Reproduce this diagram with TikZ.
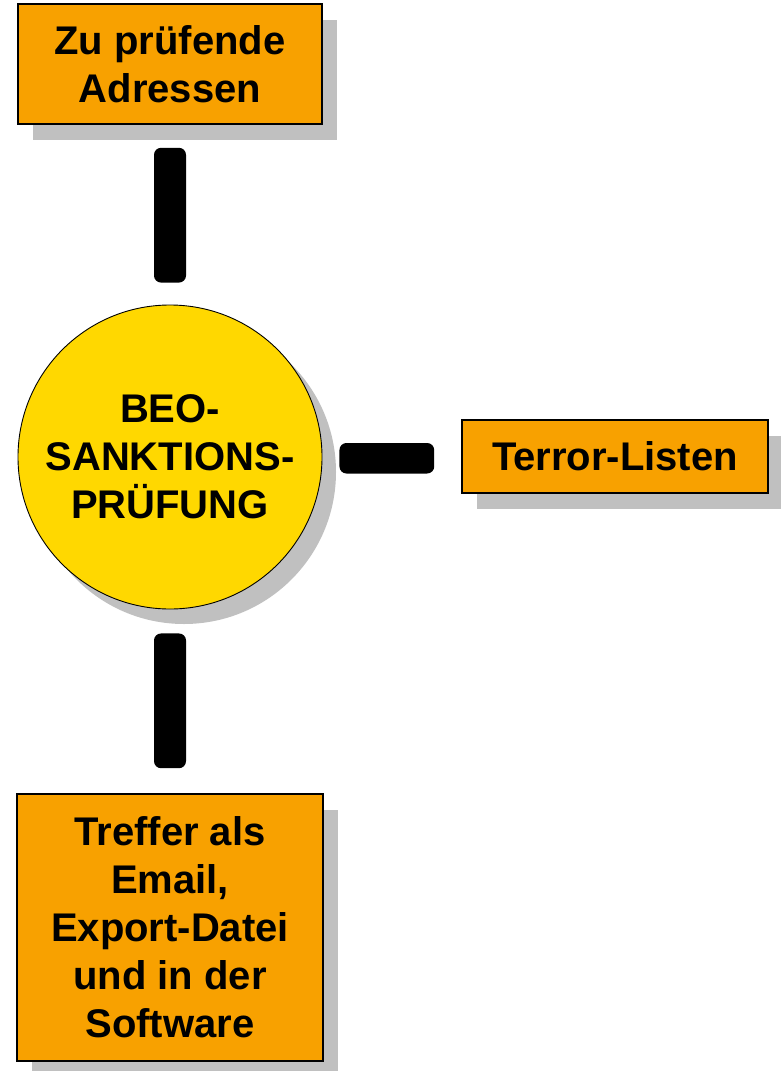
\documentclass[tikz,border=0pt]{standalone}
\usepackage{fontspec}
\setmainfont{Liberation Sans}
\usepackage{xcolor}
\usepackage{tikz}
\usetikzlibrary{positioning, shadows}

\definecolor{kastenorange}{HTML}{F8A100}
\definecolor{kreisgelb}{HTML}{FFD800}
\definecolor{schatten}{HTML}{C0C0C0}

\tikzset{
	kasten/.style={
		draw=black,
		line width=1.6pt,
		fill=kastenorange,
		align=center,
		inner sep=0pt,
		font=\fontsize{40}{48}\selectfont\bfseries,
		drop shadow={shadow xshift=15pt, shadow yshift=-16pt, fill=schatten, opacity=1}
	},
	kreis/.style={
		circle,
		draw=black,
		line width=0.9pt,
		fill=kreisgelb,
		align=center,
		inner sep=0pt,
		minimum size=304pt,
		font=\fontsize{40}{48}\selectfont\bfseries,
		drop shadow={shadow xshift=14pt, shadow yshift=-15pt, fill=schatten, opacity=1}
	},
	balken/.style={
		fill=black,
		rounded corners=7pt
	}
}

\begin{document}
\begin{tikzpicture}[x=1pt, y=-1pt]
	% Rahmen
	\useasboundingbox (0,0) rectangle (780,1071);
	% Kaesten
	\node[
		kasten,
		minimum width=304pt,
		minimum height=120pt
	] (adressen) at (170,64) {Zu prüfende\\Adressen};
	\node[
		kreis
	] (pruefung) at (170,457) {BEO-\\SANKTIONS-\\PRÜFUNG};
	\node[
		kasten,
		minimum width=306pt,
		minimum height=73pt
	] (terror) at (615,456.5) {Terror-Listen};
	\node[
		kasten,
		minimum width=306pt,
		minimum height=267pt
	] (treffer) at (170,927.5) {Treffer als\\Email,\\Export-Datei\\und in der\\Software};
	% Verbindungen
	\fill[balken] ([xshift=-16pt,yshift=-23pt]adressen.south) rectangle
		([xshift=16pt,yshift=22pt]pruefung.north);
	\fill[balken] ([xshift=17pt,yshift=14pt]pruefung.east) rectangle
		([xshift=-27pt,yshift=-17pt]terror.west);
	\fill[balken] ([xshift=-16pt,yshift=-24pt]pruefung.south) rectangle
		([xshift=16pt,yshift=25pt]treffer.north);
\end{tikzpicture}
\end{document}
